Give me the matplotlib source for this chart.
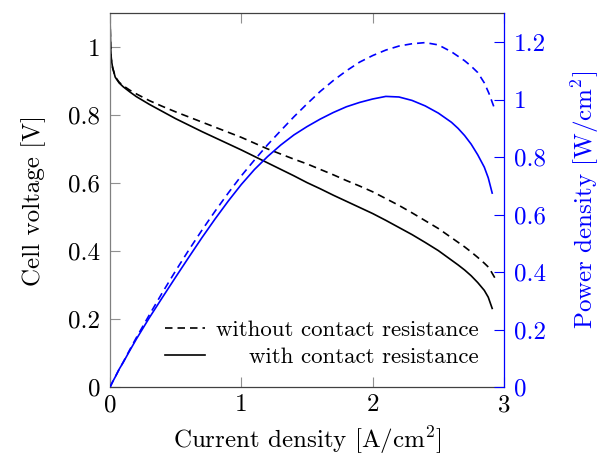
import matplotlib
matplotlib.use("Agg")
import matplotlib.pyplot as plt
from matplotlib.ticker import FuncFormatter

plt.rcParams['font.family'] = 'cmr10'
plt.rcParams['mathtext.fontset'] = 'cm'
plt.rcParams['axes.unicode_minus'] = False
plt.rcParams['axes.formatter.use_mathtext'] = True

# with contact resistance (solid)
current_with = [0, 0.005, 0.01, 0.02, 0.04, 0.07, 0.1, 0.15, 0.2, 0.3, 0.4, 0.5, 0.6, 0.7, 0.8,
                0.9, 1.0, 1.1, 1.2, 1.3, 1.4, 1.5, 1.6, 1.7, 1.8, 1.9, 2.0, 2.1, 2.2, 2.3, 2.4,
                2.5, 2.6, 2.65, 2.7, 2.75, 2.8, 2.85, 2.88, 2.91]
voltage_with = [1.09, 1.0, 0.965, 0.94, 0.912, 0.895, 0.884, 0.869, 0.855, 0.832, 0.811, 0.79,
                0.771, 0.752, 0.734, 0.716, 0.698, 0.679, 0.66, 0.641, 0.622, 0.602, 0.584,
                0.565, 0.547, 0.529, 0.511, 0.491, 0.47, 0.449, 0.426, 0.402, 0.374, 0.36,
                0.345, 0.328, 0.308, 0.285, 0.265, 0.232]
power_with = [0, 0.005, 0.0097, 0.019, 0.036, 0.063, 0.086, 0.127, 0.167, 0.242, 0.313, 0.383,
              0.452, 0.52, 0.585, 0.647, 0.705, 0.757, 0.802, 0.842, 0.877, 0.906, 0.932,
              0.955, 0.975, 0.99, 1.002, 1.011, 1.009, 0.997, 0.978, 0.953, 0.921, 0.9, 0.875,
              0.845, 0.808, 0.765, 0.728, 0.675]

# without contact resistance (dashed)
current_without = [0, 0.005, 0.01, 0.02, 0.04, 0.07, 0.1, 0.15, 0.2, 0.3, 0.4, 0.5, 0.6, 0.7,
                   0.8, 0.9, 1.0, 1.1, 1.2, 1.3, 1.4, 1.5, 1.6, 1.7, 1.8, 1.9, 2.0, 2.1, 2.2,
                   2.3, 2.4, 2.5, 2.6, 2.7, 2.75, 2.8, 2.85, 2.885, 2.93]
voltage_without = [1.09, 1.0, 0.965, 0.94, 0.913, 0.897, 0.887, 0.874, 0.863, 0.843, 0.826,
                   0.81, 0.795, 0.78, 0.765, 0.75, 0.735, 0.718, 0.701, 0.686, 0.671, 0.657,
                   0.641, 0.625, 0.608, 0.592, 0.575, 0.555, 0.535, 0.513, 0.49, 0.467, 0.44,
                   0.413, 0.398, 0.382, 0.365, 0.352, 0.322]
power_without = [0, 0.005, 0.0097, 0.019, 0.036, 0.063, 0.087, 0.13, 0.172, 0.252, 0.33, 0.405,
                 0.477, 0.546, 0.612, 0.675, 0.735, 0.79, 0.843, 0.892, 0.94, 0.985, 1.028,
                 1.066, 1.1, 1.13, 1.153, 1.172, 1.186, 1.194, 1.198, 1.19, 1.166, 1.135,
                 1.116, 1.094, 1.058, 1.022, 0.966]

x_ticks = [0, 1, 2, 3]
v_ticks = [0, 0.2, 0.4, 0.6, 0.8, 1]
p_ticks = [0, 0.2, 0.4, 0.6, 0.8, 1, 1.2]

blue = '#0000ff'
fs = 18
fmt = FuncFormatter(lambda v, pos: f'{v:g}')

fig, ax = plt.subplots(figsize=(6.06, 4.57), dpi=100)
fig.subplots_adjust(left=0.1815, right=0.8317, bottom=0.1525, top=0.971)
ax2 = ax.twinx()

ax.plot(current_without, voltage_without, color='black', lw=1.2, dashes=(4.5, 3),
        label='without contact resistance')
ax.plot(current_with, voltage_with, color='black', lw=1.2,
        label='with contact resistance')
ax2.plot(current_without, power_without, color=blue, lw=1.2, dashes=(4.5, 3))
ax2.plot(current_with, power_with, color=blue, lw=1.2)

ax.set_xlim(0, 3)
ax.set_ylim(0, 1.1)
ax2.set_ylim(0, 1.3)
ax.set_xticks(x_ticks)
ax.set_yticks(v_ticks)
ax2.set_yticks(p_ticks)
for a in (ax, ax2):
    a.xaxis.set_major_formatter(fmt)
    a.yaxis.set_major_formatter(fmt)

ax.tick_params(axis='x', direction='in', length=7, width=0.8, color='#909090',
               labelsize=fs, pad=5, top=True)
ax.tick_params(axis='y', direction='in', length=7, width=0.8, color='#909090',
               labelsize=fs, pad=7, right=False)
ax2.tick_params(axis='y', direction='in', length=7, width=0.8, color=blue,
                labelcolor=blue, labelsize=fs, pad=7)

ax.spines['left'].set_color('#808080')
ax.spines['bottom'].set_color('#404040')
ax.spines['top'].set_color('#404040')
ax2.spines['left'].set_visible(False)
ax2.spines['top'].set_visible(False)
ax2.spines['bottom'].set_visible(False)
ax2.spines['right'].set_color(blue)
for s in ax.spines.values():
    s.set_linewidth(0.9)
ax2.spines['right'].set_linewidth(0.9)
ax.spines['right'].set_visible(False)

ax.set_xlabel('Current density [A/cm$^2$]', fontsize=fs, labelpad=6)
ax.set_ylabel('Cell voltage [V]', fontsize=fs, labelpad=16)
ax2.set_ylabel('Power density [W/cm$^2$]', fontsize=fs, color=blue, labelpad=17)

leg = ax.legend(loc='lower right', bbox_to_anchor=(0.935, 0.055), frameon=False, fontsize=16.5,
                handlelength=1.75, handletextpad=0.45, labelspacing=0.3, borderpad=0,
                borderaxespad=0)

# right-align the legend labels like pgfplots does
fig.canvas.draw()
texts = leg.get_texts()
r = fig.canvas.get_renderer()
w0 = texts[0].get_window_extent(r).width
w1 = texts[1].get_window_extent(r).width
texts[1].set_x(w0 - w1)

fig.savefig('out.png', dpi=100)
